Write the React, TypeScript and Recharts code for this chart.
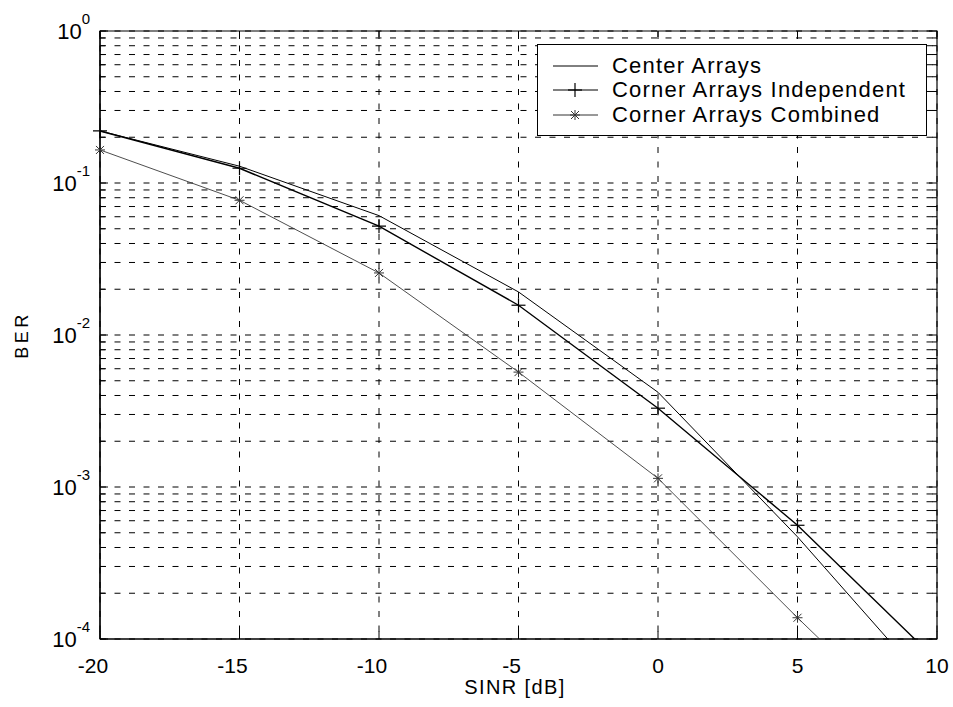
import React from "react";
import {
  LineChart,
  Line,
  XAxis,
  YAxis,
  CartesianGrid,
  ReferenceArea,
  Legend,
  Label,
} from "recharts";

// SINR sample points [dB]
const sinr = [-20, -15, -10, -5, 0, 5, 10];

// BER per curve (log scale)
const centerArrays = [0.22, 0.129, 0.061, 0.0192, 0.0042, 0.00047, 0.000043];
const cornerIndependent = [0.22, 0.125, 0.052, 0.0157, 0.0033, 0.00056, 0.000072];
const cornerCombined = [0.165, 0.077, 0.0256, 0.0057, 0.00114, 0.000138, 0.000018];

const xTicks = [-20, -15, -10, -5, 0, 5, 10];
const decades = [0.0001, 0.001, 0.01, 0.1];
const mantissas = [1, 2, 3, 4, 5, 6, 7, 8, 9];
const yTicks = [...decades.flatMap((d) => mantissas.map((m) => +(m * d).toPrecision(3))), 1];

const FONT = "'Liberation Sans', Arial, Helvetica, sans-serif";
const PLOT_LEFT = 100;
const PLOT_RIGHT = 937;
const PLOT_TOP = 31;
const PLOT_BOTTOM = 639;

const data = sinr.map((x, i) => ({
  x,
  center: centerArrays[i],
  indep: cornerIndependent[i],
  combined: cornerCombined[i],
}));

function YTick(props: any) {
  const { y, payload } = props;
  const v = payload.value;
  const lg = Math.log10(v);
  const e = Math.round(lg);
  const major = Math.abs(lg - e) < 1e-6;
  const len = major ? 8 : 5;
  return (
    <g>
      <line x1={PLOT_LEFT} x2={PLOT_LEFT + len} y1={y} y2={y} stroke="#000" />
      <line x1={PLOT_RIGHT - len} x2={PLOT_RIGHT} y1={y} y2={y} stroke="#000" />
      {major && (
        <text x={PLOT_LEFT - 10} y={y} textAnchor="end" fontFamily={FONT} fill="#000">
          <tspan fontSize={22} dy={7.5}>10</tspan>
          <tspan fontSize={15} dy={-15}>{String(e)}</tspan>
        </text>
      )}
    </g>
  );
}

function XTick(props: any) {
  const { x, payload } = props;
  const v = payload.value;
  return (
    <g>
      <line x1={x} x2={x} y1={PLOT_BOTTOM} y2={PLOT_BOTTOM - 8} stroke="#000" />
      <line x1={x} x2={x} y1={PLOT_TOP} y2={PLOT_TOP + 8} stroke="#000" />
      <text
        x={x + (v < 0 ? -7 : 0)}
        y={PLOT_BOTTOM + 34}
        textAnchor="middle"
        fontFamily={FONT}
        fontSize={21}
        fill="#000"
      >
        {String(v)}
      </text>
    </g>
  );
}

function PlusMark({ cx, cy, s = 7, color = "#000" }: any) {
  return (
    <g>
      <line x1={cx - s} x2={cx + s} y1={cy} y2={cy} stroke={color} strokeWidth={1.2} />
      <line x1={cx} x2={cx} y1={cy - s} y2={cy + s} stroke={color} strokeWidth={1.2} />
    </g>
  );
}

function StarMark({ cx, cy, s = 5, color = "#333" }: any) {
  const d = s * 0.8;
  return (
    <g stroke={color} strokeWidth={1}>
      <line x1={cx - s} x2={cx + s} y1={cy} y2={cy} />
      <line x1={cx} x2={cx} y1={cy - s} y2={cy + s} />
      <line x1={cx - d} x2={cx + d} y1={cy - d} y2={cy + d} />
      <line x1={cx - d} x2={cx + d} y1={cy + d} y2={cy - d} />
    </g>
  );
}

const plusDot = (p: any) =>
  p.value < 0.0001 || p.cy == null ? (
    <g key={p.index} />
  ) : (
    <PlusMark key={p.index} cx={p.cx} cy={p.cy} />
  );

const starDot = (p: any) =>
  p.value < 0.0001 || p.cy == null ? (
    <g key={p.index} />
  ) : (
    <StarMark key={p.index} cx={p.cx} cy={p.cy} />
  );

function LegendBox() {
  const rows = [
    { label: "Center Arrays", mark: null, color: "#000" },
    { label: "Corner Arrays Independent", mark: "plus", color: "#000" },
    { label: "Corner Arrays Combined", mark: "star", color: "#333" },
  ];
  return (
    <div
      style={{
        width: 390,
        height: 92,
        border: "1.5px solid #000",
        background: "#fff",
        boxSizing: "border-box",
        position: "relative",
        fontFamily: FONT,
      }}
    >
      {rows.map((r, i) => {
        const cy = [21, 45, 70][i];
        return (
          <div key={r.label}>
            <svg
              width={60}
              height={20}
              style={{ position: "absolute", left: 10, top: cy - 10 }}
            >
              <line x1={5} x2={50} y1={10} y2={10} stroke={r.color} strokeWidth={1} />
              {r.mark === "plus" && <PlusMark cx={27} cy={10} s={7} />}
              {r.mark === "star" && <StarMark cx={27} cy={10} s={5} />}
            </svg>
            <span
              style={{
                position: "absolute",
                left: 74,
                top: cy - 13,
                fontSize: 22,
                letterSpacing: 1.2,
                lineHeight: "26px",
                color: "#000",
                whiteSpace: "nowrap",
              }}
            >
              {r.label}
            </span>
          </div>
        );
      })}
    </div>
  );
}

export default function App() {
  return (
    <div style={{ position: "absolute", left: 0, top: 0, width: 953, height: 707, background: "#fff" }}>
      <LineChart
        width={953}
        height={707}
        data={data}
        margin={{ top: PLOT_TOP, right: 953 - PLOT_RIGHT, left: 0, bottom: 0 }}
      >
        <CartesianGrid stroke="#000" strokeDasharray="6 8.5" strokeWidth={1} />
        <XAxis
          dataKey="x"
          type="number"
          domain={[-20, 10]}
          ticks={xTicks}
          height={707 - PLOT_BOTTOM}
          tickLine={false}
          tickSize={0}
          axisLine={{ stroke: "#000", strokeWidth: 1.2 }}
          tick={<XTick />}
          interval={0}
        >
          <Label
            content={() => (
              <text
                x={515}
                y={694}
                textAnchor="middle"
                fontFamily={FONT}
                fontSize={20}
                letterSpacing={1.4}
                fill="#000"
              >
                SINR [dB]
              </text>
            )}
          />
        </XAxis>
        <YAxis
          type="number"
          scale="log"
          domain={[0.0001, 1]}
          allowDataOverflow
          ticks={yTicks}
          width={PLOT_LEFT}
          tickLine={false}
          tickSize={0}
          axisLine={{ stroke: "#000", strokeWidth: 1.2 }}
          tick={<YTick />}
          interval={0}
        >
          <Label
            content={() => (
              <text
                x={28}
                y={335}
                transform="rotate(-90 28 335)"
                textAnchor="middle"
                fontFamily={FONT}
                fontSize={18}
                letterSpacing={3.5}
                fill="#000"
              >
                BER
              </text>
            )}
          />
        </YAxis>
        <ReferenceArea
          x1={-20}
          x2={10}
          y1={0.0001}
          y2={1}
          fill="none"
          stroke="#000"
          strokeWidth={1.2}
          ifOverflow="visible"
        />
        <Line
          dataKey="center"
          name="Center Arrays"
          stroke="#000"
          strokeWidth={1}
          dot={false}
          isAnimationActive={false}
          type="linear"
        />
        <Line
          dataKey="indep"
          name="Corner Arrays Independent"
          stroke="#000"
          strokeWidth={1.4}
          dot={plusDot}
          isAnimationActive={false}
          type="linear"
        />
        <Line
          dataKey="combined"
          name="Corner Arrays Combined"
          stroke="#3a3a3a"
          strokeWidth={0.9}
          dot={starDot}
          isAnimationActive={false}
          type="linear"
        />
        <Legend
          layout="horizontal"
          verticalAlign="middle"
          align="center"
          content={() => <LegendBox />}
          wrapperStyle={{ position: "absolute", left: 537, top: 44, width: 390, height: 92 }}
        />
      </LineChart>
    </div>
  );
}
